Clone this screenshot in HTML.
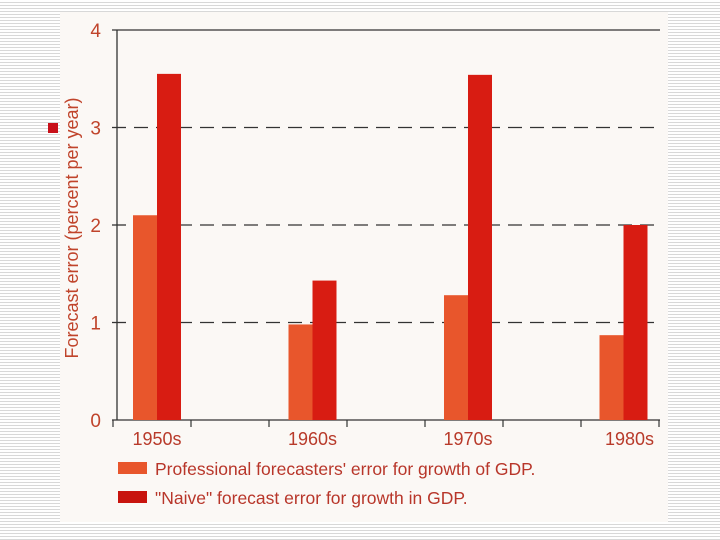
<!DOCTYPE html>
<html><head><meta charset="utf-8"><style>
body{margin:0;width:720px;height:540px;overflow:hidden;background:repeating-linear-gradient(to bottom,#fff 0,#fff 2px,#d8d8d8 2px,#d8d8d8 3px);font-family:"Liberation Sans",sans-serif}
</style></head><body>
<svg width="720" height="540" style="position:absolute;left:0;top:0">
<rect x="60" y="12" width="608" height="510" fill="#fbf8f5"/>
<rect x="48" y="123" width="10" height="10" fill="#c8101a"/>
<g id="g"></g>
</svg>
<script>
const categories=["1950s","1960s","1970s","1980s"];
const professional=[2.1,0.98,1.28,0.87];
const naive=[3.55,1.43,3.54,2.0];
const yTicks=[0,1,2,3,4];
const NS="http://www.w3.org/2000/svg";
const g=document.getElementById('g');
const y=v=>420-v*97.5;
const xc=i=>157+i*155.5;
function el(t,a,txt){const e=document.createElementNS(NS,t);for(const k in a)e.setAttribute(k,a[k]);if(txt!=null)e.textContent=txt;g.appendChild(e);return e;}
yTicks.forEach(v=>{
 let l=el('line',{x1:112,x2:660,y1:y(v),y2:y(v),stroke:'#333','stroke-width':1.3,'stroke-dasharray':(v>0&&v<4)?'14,8':'none'});
 
 
 let t=el('text',{x:101,y:y(v)+7,'text-anchor':'end','font-size':19,fill:'#c0442b'},String(v));
 
 
});
let ax=el('line',{x1:117,x2:117,y1:y(4),y2:y(0),stroke:'#333','stroke-width':1.3});


for(let k=0;k<8;k++){let tk=el('line',{x1:113+k*78,x2:113+k*78,y1:420,y2:427,stroke:'#333','stroke-width':1.2});
 
 }
categories.forEach((c,i)=>{
 let b1=el('rect',{x:xc(i)-24,y:y(professional[i]),width:24,height:y(0)-y(professional[i]),fill:'#e8562c'});
 
 
 let b2=el('rect',{x:xc(i),y:y(naive[i]),width:24,height:y(0)-y(naive[i]),fill:'#d81c12'});
 
 
 let t=el('text',{x:xc(i)+(i==3?6:0),y:445,'text-anchor':'middle','font-size':18,fill:'#b83a2a'},c);
 
 
});
let yt=el('text',{x:0,y:0,transform:'translate(78,228) rotate(-90)','text-anchor':'middle','font-size':18,fill:'#c0442b'},'Forecast error (percent per year)');


[['#e8562c',"Professional forecasters' error for growth of GDP.",468],['#c8140e','"Naive" forecast error for growth in GDP.',497]].forEach((L,i)=>{
 let s=el('rect',{x:118,y:L[2]-6,width:29,height:12,fill:L[0]});
 
 
 let t=el('text',{x:155,y:L[2]+7,'font-size':17.5,fill:'#b8362a'},L[1]);
 
 
});
</script>
</body></html>
